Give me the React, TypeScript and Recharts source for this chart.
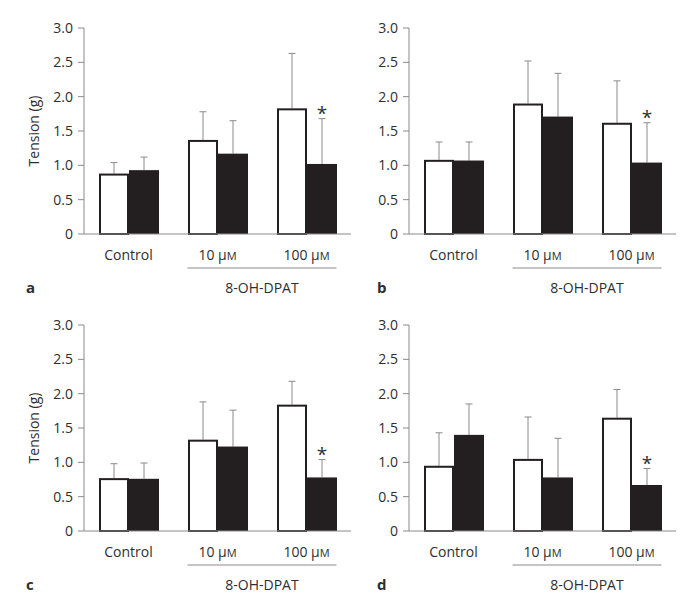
import { BarChart, Bar, XAxis, YAxis } from "recharts";

const groups = ["Control", "10 µM", "100 µM"];
const starred = [false, false, true];

// panel a
const aWhite = [0.88, 1.37, 1.83];
const aWhiteErr = [0.16, 0.41, 0.8];
const aBlack = [0.93, 1.17, 1.02];
const aBlackErr = [0.19, 0.48, 0.66];
// panel b
const bWhite = [1.08, 1.9, 1.62];
const bWhiteErr = [0.26, 0.62, 0.61];
const bBlack = [1.07, 1.71, 1.04];
const bBlackErr = [0.27, 0.63, 0.58];
// panel c
const cWhite = [0.77, 1.33, 1.84];
const cWhiteErr = [0.21, 0.55, 0.34];
const cBlack = [0.76, 1.23, 0.78];
const cBlackErr = [0.23, 0.53, 0.26];
// panel d
const dWhite = [0.95, 1.05, 1.65];
const dWhiteErr = [0.48, 0.61, 0.41];
const dBlack = [1.4, 0.78, 0.67];
const dBlackErr = [0.45, 0.57, 0.24];

const yTicks = [0, 0.5, 1, 1.5, 2, 2.5, 3];

const FONT = "'Open Sans', sans-serif";
const INK = "#231f20";
const AXIS = "#8a8a8a";
const TEXT = "#2e2e2e";

const buildRows = (w: number[], we: number[], b: number[], be: number[]) =>
  groups.map((g, i) => ({
    group: g,
    white: w[i],
    whiteErr: we[i],
    black: b[i],
    blackErr: be[i],
    star: starred[i],
  }));

const BarWithErr = (props: any) => {
  const { x, y, width, height, payload, valKey, errKey, filled } = props;
  if (!height) return null;
  const errPx = (payload[errKey] * height) / payload[valKey];
  const cx = x + width / 2;
  const top = y - errPx;
  return (
    <g>
      <line x1={cx} x2={cx} y1={y} y2={top} stroke={AXIS} strokeWidth={1} />
      <line x1={cx - 3.5} x2={cx + 3.5} y1={top} y2={top} stroke={AXIS} strokeWidth={1} />
      {filled ? (
        <rect x={x} y={y} width={width} height={height} fill={INK} />
      ) : (
        <rect
          x={x + 1}
          y={y + 1}
          width={width - 2}
          height={height - 1}
          fill="#fff"
          stroke={INK}
          strokeWidth={2}
        />
      )}
      {filled && payload.star && (
        <text x={cx} y={top + 1} textAnchor="middle" fontSize={19} fill={TEXT} fontFamily={FONT}>
          *
        </text>
      )}
    </g>
  );
};

const GroupTick = (props: any) => {
  const { x, y, payload, index, letter, letterX } = props;
  const v: string = payload.value;
  const parts = v.split(" ");
  return (
    <g fontFamily={FONT} fill={TEXT}>
      <text x={x} y={y + 26} textAnchor="middle" fontSize={14}>
        {parts.length > 1 ? (
          <>
            {parts[0] + " μ"}
            <tspan fontSize={11}>M</tspan>
          </>
        ) : (
          v
        )}
      </text>
      {index === 0 && (
        <text x={letterX} y={y + 59} fontSize={15} fontWeight="bold">
          {letter}
        </text>
      )}
      {index === 2 && (
        <>
          <line x1={x - 89 - 30} x2={x + 30} y1={y + 34} y2={y + 34} stroke={AXIS} strokeWidth={1} />
          <text x={x - 44.5} y={y + 59} textAnchor="middle" fontSize={14}>
            8-OH-DPAT
          </text>
        </>
      )}
    </g>
  );
};

const YLabel = (props: any) => {
  const { viewBox } = props;
  const cx = viewBox.x + 33;
  const cy = viewBox.y + viewBox.height / 2;
  return (
    <text
      x={cx}
      y={cy}
      transform={`rotate(-90 ${cx} ${cy})`}
      textAnchor="middle"
      dominantBaseline="central"
      fontSize={14}
      fill={TEXT}
      fontFamily={FONT}
    >
      Tension (g)
    </text>
  );
};

function Panel({ rows, letter, letterX, showLabel }: any) {
  return (
    <BarChart
      width={351}
      height={306}
      data={rows}
      margin={{ top: 28, right: 0, bottom: 0, left: 0 }}
      barGap={0}
      barSize={30}
    >
      <XAxis
        dataKey="group"
        height={72}
        axisLine={{ stroke: AXIS }}
        tickLine={false}
        tickSize={0}
        tickMargin={0}
        interval={0}
        tick={<GroupTick letter={letter} letterX={letterX} />}
      />
      <YAxis
        width={84}
        domain={[0, 3]}
        ticks={yTicks}
        axisLine={{ stroke: AXIS }}
        tickLine={{ stroke: AXIS }}
        tickSize={6}
        tickMargin={5}
        tick={{ fontSize: 14, fill: TEXT, fontFamily: FONT }}
        tickFormatter={(v: number) => (v === 0 ? "0" : v.toFixed(1))}
        label={showLabel ? <YLabel /> : undefined}
      />
      <Bar
        dataKey="white"
        isAnimationActive={false}
        shape={(p: any) => <BarWithErr {...p} valKey="white" errKey="whiteErr" filled={false} />}
      />
      <Bar
        dataKey="black"
        isAnimationActive={false}
        shape={(p: any) => <BarWithErr {...p} valKey="black" errKey="blackErr" filled={true} />}
      />
    </BarChart>
  );
}

export default function App() {
  return (
    <div
      style={{
        position: "relative",
        width: 700,
        height: 612,
        margin: -8,
        background: "#fff",
        fontFamily: FONT,
      }}
    >
      <div style={{ position: "absolute", left: 0, top: 0 }}>
        <Panel rows={buildRows(aWhite, aWhiteErr, aBlack, aBlackErr)} letter="a" letterX={26} showLabel />
      </div>
      <div style={{ position: "absolute", left: 325, top: 0 }}>
        <Panel rows={buildRows(bWhite, bWhiteErr, bBlack, bBlackErr)} letter="b" letterX={52} />
      </div>
      <div style={{ position: "absolute", left: 0, top: 297 }}>
        <Panel rows={buildRows(cWhite, cWhiteErr, cBlack, cBlackErr)} letter="c" letterX={26} showLabel />
      </div>
      <div style={{ position: "absolute", left: 325, top: 297 }}>
        <Panel rows={buildRows(dWhite, dWhiteErr, dBlack, dBlackErr)} letter="d" letterX={52} />
      </div>
      <svg
        width={700}
        height={612}
        style={{ position: "absolute", left: 0, top: 0, pointerEvents: "none" }}
      >
        <rect x={1} y={1} width={698} height={610} fill="none" stroke="#444" strokeWidth={2} />
      </svg>
    </div>
  );
}
